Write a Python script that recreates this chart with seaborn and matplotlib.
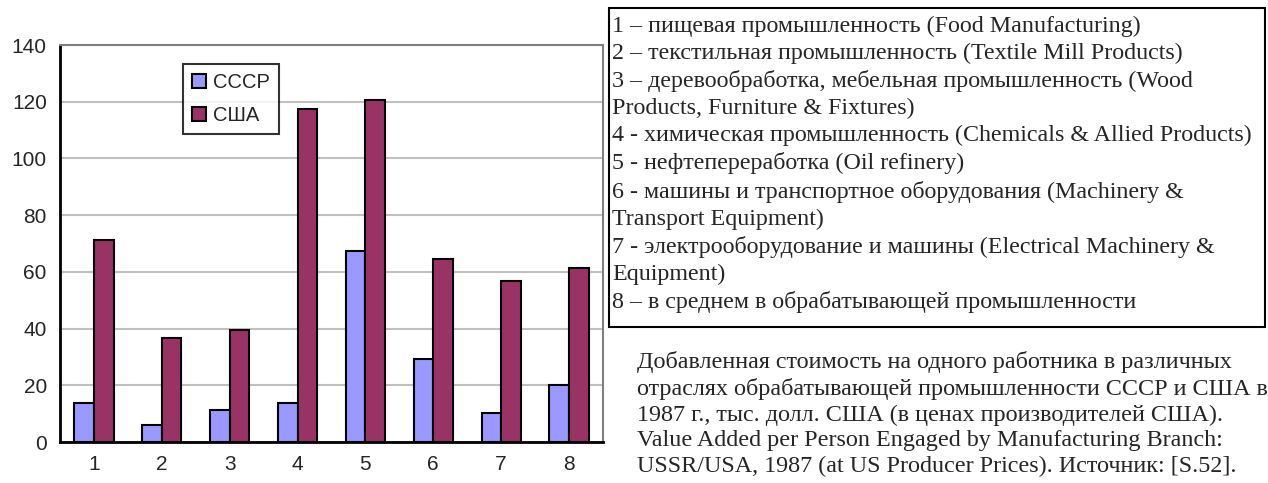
import matplotlib
matplotlib.use("Agg")
import matplotlib.pyplot as plt
import seaborn as sns
import pandas as pd
from matplotlib.patches import Rectangle

categories = ["1", "2", "3", "4", "5", "6", "7", "8"]
ussr = [13.6, 6.0, 11.3, 13.6, 67.3, 29.4, 10.3, 20.0]
usa = [71.2, 36.6, 39.5, 117.3, 120.5, 64.4, 56.8, 61.5]
series_names = ["СССР", "США"]
colors = ["#9999FF", "#993366"]
yticks = [0, 20, 40, 60, 80, 100, 120, 140]

legend_lines = [
    "1 – пищевая промышленность (Food Manufacturing)",
    "2 – текстильная промышленность (Textile Mill Products)",
    "3 – деревообработка, мебельная промышленность (Wood",
    "Products, Furniture & Fixtures)",
    "4 - химическая промышленность (Chemicals & Allied Products)",
    "5 - нефтепереработка (Oil refinery)",
    "6 - машины и транспортное оборудования (Machinery &",
    "Transport Equipment)",
    "7 - электрооборудование и машины (Electrical Machinery &",
    "Equipment)",
    "8 – в среднем в обрабатывающей промышленности",
]
caption_lines = [
    "Добавленная стоимость на одного работника в различных",
    "отраслях обрабатывающей промышленности СССР и США в",
    "1987 г., тыс. долл. США (в ценах производителей США).",
    "Value Added per Person Engaged by Manufacturing Branch:",
    "USSR/USA, 1987 (at US Producer Prices). Источник: [S.52].",
]

df = pd.DataFrame({
    "cat": categories * 2,
    "value": ussr + usa,
    "series": [series_names[0]] * len(categories) + [series_names[1]] * len(categories),
})

sns.set_style("white")
plt.rcParams["font.family"] = ["Liberation Sans", "DejaVu Sans"]

W, H = 1268, 483
fig = plt.figure(figsize=(W / 100, H / 100), dpi=100)
ax = fig.add_axes([60 / W, (H - 442) / H, 543 / W, 397 / H])

sns.barplot(data=df, x="cat", y="value", hue="series", palette=colors,
            width=0.58, gap=0, edgecolor="black", linewidth=1.5, ax=ax,
            saturation=1, errorbar=None, zorder=3)

ax.set_ylim(0, 140)
ax.set_xlim(-0.5, len(categories) - 0.5)
ax.set_yticks(yticks)
ax.set_yticklabels([str(v) for v in yticks], fontsize=15)
ax.yaxis.grid(True, color="#C0C0C0", linewidth=1.5, zorder=0)
ax.set_axisbelow(True)
ax.set_xlabel("")
ax.set_ylabel("")

ax.tick_params(axis="x", which="major", length=0, labelsize=15, pad=9)
ax.set_xticks([i - 0.5 for i in range(len(categories) + 1)], minor=True)
ax.tick_params(axis="x", which="minor", length=5.5, width=1.5, direction="out", color="black")
ax.tick_params(axis="y", which="major", length=5.5, width=1.5, direction="out", color="black", labelsize=15, pad=4)

for s in ["left", "bottom"]:
    ax.spines[s].set_color("black")
    ax.spines[s].set_linewidth(2)
for s in ["top", "right"]:
    ax.spines[s].set_color("#808080")
    ax.spines[s].set_linewidth(1.5)

handles, labels = ax.get_legend_handles_labels()
leg = ax.legend(handles, labels, loc="upper left", bbox_to_anchor=((183 - 60) / 543, (442 - 64) / 397),
                frameon=True, fancybox=False, edgecolor="black", fontsize=14.5,
                handlelength=0.7, handleheight=0.7, handletextpad=0.35,
                borderpad=0.45, labelspacing=0.7, borderaxespad=0)
leg.get_frame().set_linewidth(1.5)

# Category description box
fig.patches.append(Rectangle((609 / W, (H - 327) / H), (1265 - 609) / W, (327 - 8) / H,
                             transform=fig.transFigure, fill=False, edgecolor="black",
                             linewidth=1.5))
fig.text(612 / W, 1 - 16 / H, "\n".join(legend_lines), ha="left", va="top",
         fontsize=17.3, family=["Liberation Serif", "DejaVu Serif"], linespacing=1.36)

fig.text(637 / W, 1 - 351 / H, "\n".join(caption_lines), ha="left", va="top",
         fontsize=17.4, family=["Liberation Serif", "DejaVu Serif"], linespacing=1.285)

fig.savefig("out.png", dpi=100)
